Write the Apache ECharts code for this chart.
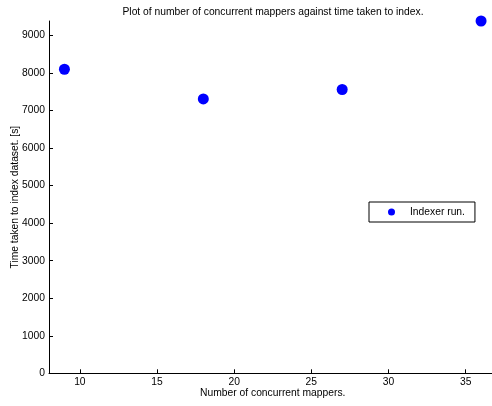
<!DOCTYPE html>
<html><head><meta charset="utf-8">
<script src="https://cdn.jsdelivr.net/npm/echarts@6/dist/echarts.min.js"></script>
<style>html,body{margin:0;padding:0;background:#fff}#c{width:492px;height:406px}</style>
</head><body><div id="c"></div>
<script>
const mappers = [9, 18, 27, 36];
const timeTaken = [8100, 7310, 7560, 9385];
const xTicks = [10, 15, 20, 25, 30, 35];
const yTicks = [0, 1000, 2000, 3000, 4000, 5000, 6000, 7000, 8000, 9000];
const seriesName = 'Indexer run.';
const titleText = 'Plot of number of concurrent mappers against time taken to index.';
const xName = 'Number of concurrent mappers.';
const yName = 'Time taken to index dataset. [s]';

const font = 'Liberation Sans, Arial, Helvetica, sans-serif';
const fs = 10.3;
const chart = echarts.init(document.getElementById('c'), null, {renderer: 'canvas'});
chart.setOption({
  animation: false,
  backgroundColor: '#fff',
  title: {text: titleText, left: 268, top: 2, textAlign: 'center',
    textStyle: {fontFamily: font, fontSize: fs, fontWeight: 'normal', color: '#000'}},
  grid: {left: 49, right: -4.5, top: 21, bottom: 406 - 373.3, containLabel: false,
    outerBoundsMode: 'none'},
  xAxis: {type: 'value', min: 8, max: 37,
    name: xName, nameLocation: 'middle', nameGap: 15, nameMoveOverlap: false,
    nameTextStyle: {fontFamily: font, fontSize: fs, color: '#000'},
    axisLine: {show: true, lineStyle: {color: '#000', width: 1}},
    axisTick: {show: true, inside: true, length: 4, lineStyle: {color: '#000'},
      customValues: xTicks},
    axisLabel: {fontFamily: font, fontSize: fs, color: '#000', margin: 4,
      customValues: xTicks, formatter: v => String(v)},
    splitLine: {show: false}},
  yAxis: {type: 'value', min: 0, max: 9385,
    name: yName, nameLocation: 'middle', nameGap: 29, nameMoveOverlap: false,
    nameTextStyle: {fontFamily: font, fontSize: fs, color: '#000'},
    axisLine: {show: true, lineStyle: {color: '#000', width: 1}},
    axisTick: {show: true, inside: true, length: 4, lineStyle: {color: '#000'},
      customValues: yTicks},
    axisLabel: {fontFamily: font, fontSize: fs, color: '#000', margin: 4,
      customValues: yTicks, formatter: v => String(v)},
    splitLine: {show: false}},
  legend: {left: 369, top: 202, width: 105, height: 19,
    itemWidth: 7, itemHeight: 7, itemGap: 0,
    padding: [5, 10, 5, 19], borderColor: '#000', borderWidth: 1,
    backgroundColor: '#fff',
    textStyle: {fontFamily: font, fontSize: fs, color: '#000', padding: [0, 0, 0, 10]},
    data: [{name: seriesName, icon: 'circle'}]},
  series: [{name: seriesName, type: 'scatter', symbol: 'circle', symbolSize: 11,
    itemStyle: {color: '#0000ff', opacity: 1},
    data: mappers.map((m, i) => [m, timeTaken[i]])}]
});
</script></body></html>
